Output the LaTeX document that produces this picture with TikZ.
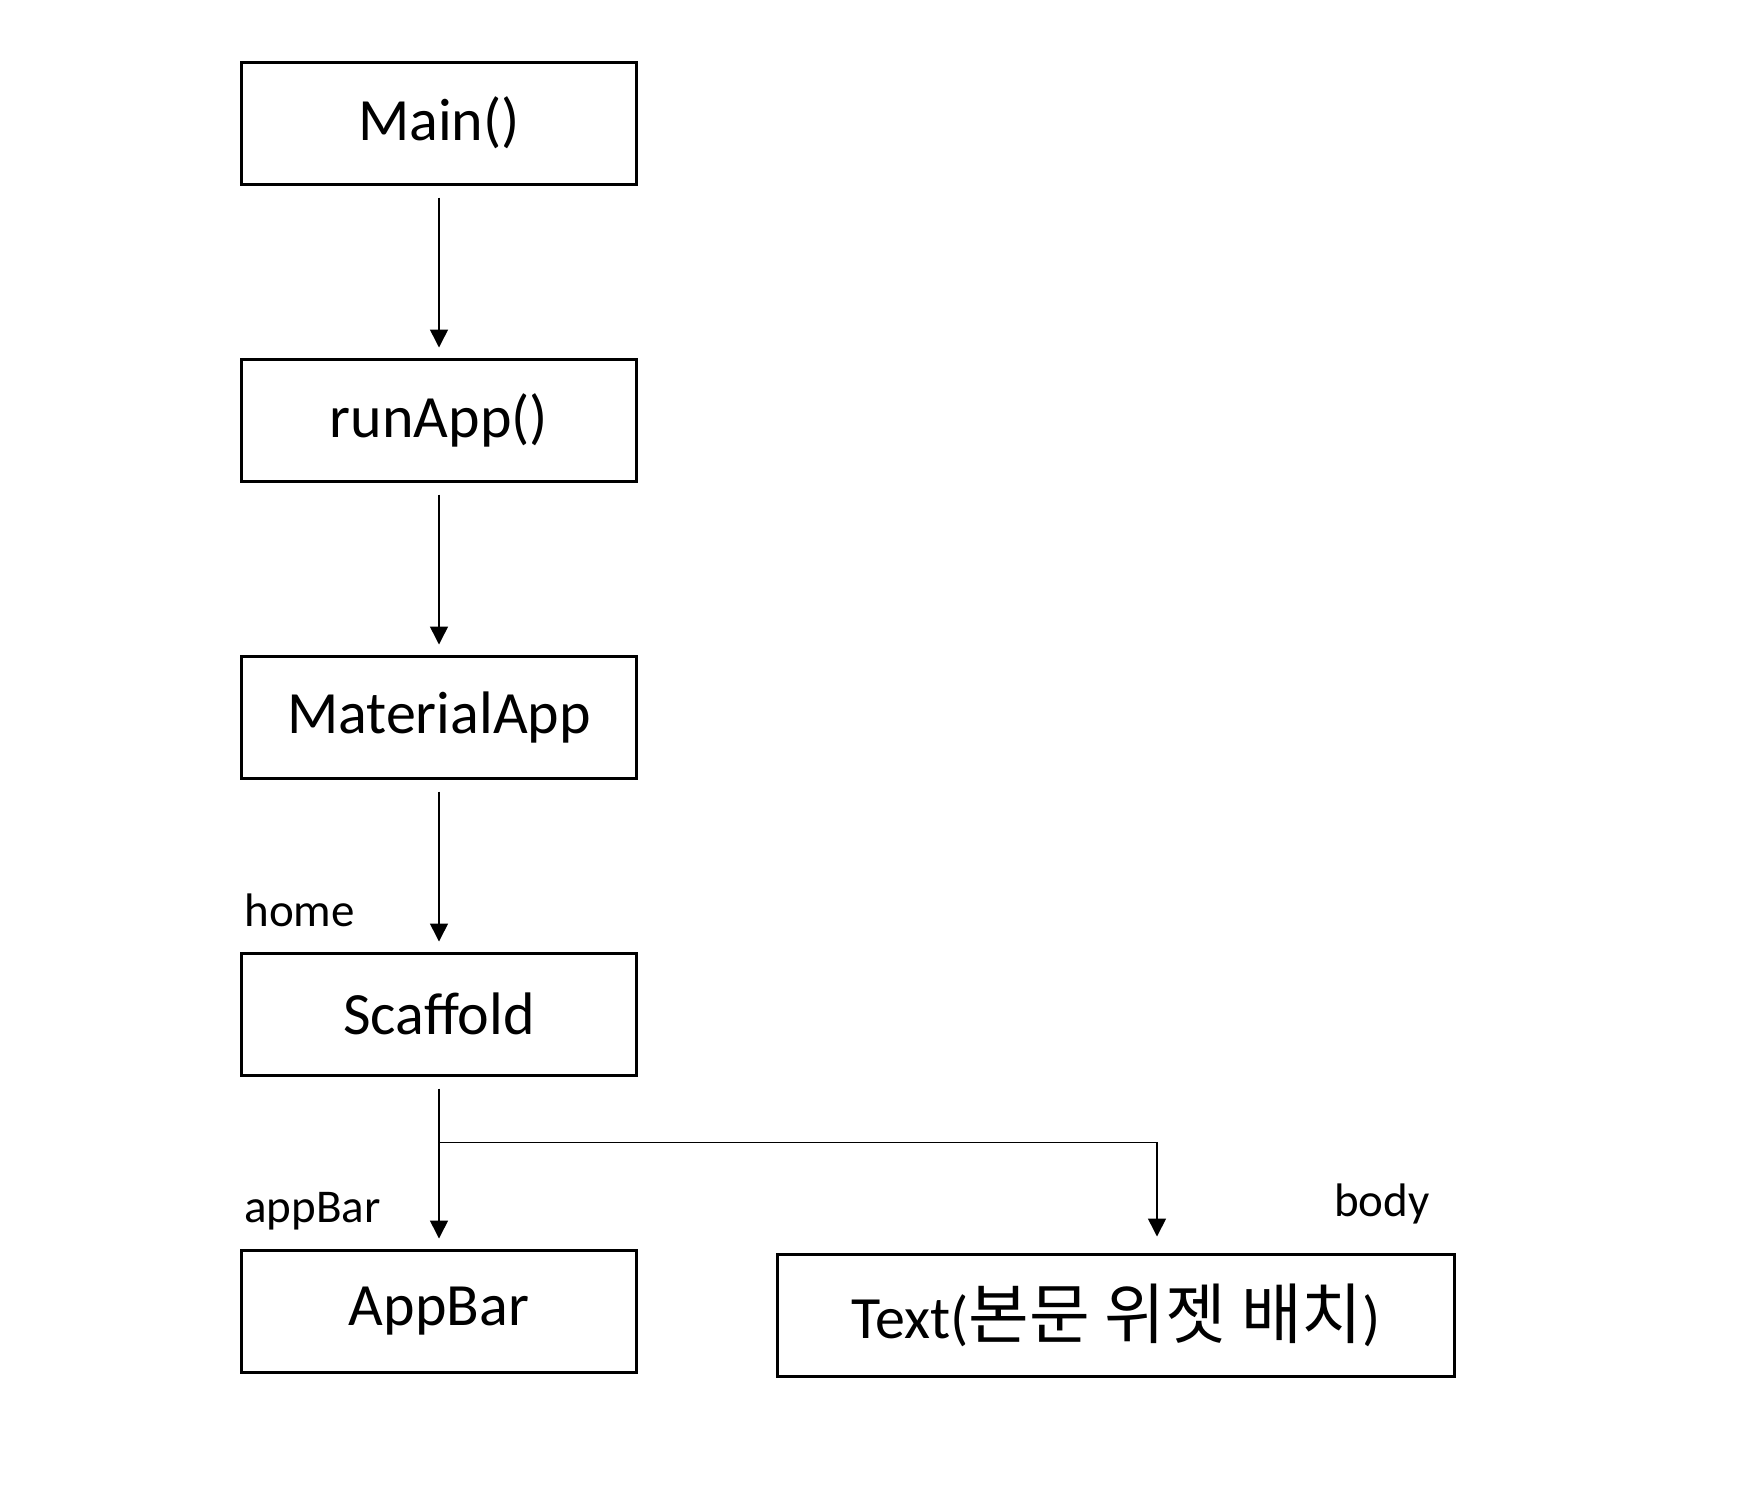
\documentclass[tikz,border=0pt]{standalone}
\usepackage{fontspec}
\setmainfont{Carlito}
\newfontfamily\hangul{Noto Sans CJK KR}
\usetikzlibrary{matrix,arrows.meta,positioning}

\tikzset{
  box/.style={draw, line width=1.5pt, minimum width=197.5pt, minimum height=61pt, font=\fontsize{30}{36}\selectfont},
  arr/.style={line width=0.75pt, -{Triangle[length=9pt,width=9pt]}},
  lbl/.style={inner sep=0pt, font=\fontsize{23.5}{28}\selectfont}
}

\begin{document}
\begin{tikzpicture}[x=0.5pt,y=-0.5pt]
  \useasboundingbox (0,0) rectangle (1740,1496);
          \matrix (m) at (439,717) [matrix of nodes,nodes={box},row sep=86pt]
            {
              Main()                    \\
              runApp()                  \\
              MaterialApp               \\
              Scaffold                  \\
              AppBar                    \\
              };
              \node[box, minimum width=338.5pt, right=69pt of m-5-1, yshift=-2pt] (txt) {Text({\hangul\fontsize{33}{36}\selectfont 본문 위젯 배치})};
              \foreach \a/\b in {1/2,2/3,3/4,4/5}
                \draw[arr] ([yshift=-6pt]m-\a-1.south) -- ([yshift=5pt]m-\b-1.north);
              \coordinate (fork) at ([yshift=-33pt]m-4-1.south);
              \draw[arr] (fork) -| ([xshift=20.5pt,yshift=8pt]txt.north);
              \node[lbl, anchor=base west] (home) at ([xshift=2pt,yshift=12.5pt]m-4-1.north west) {home};
              \node[lbl, anchor=base west] (appbar) at ([xshift=2pt,yshift=13pt]m-5-1.north west) {appBar};
              \node[lbl, anchor=base east] (body) at ([xshift=-13pt,yshift=18pt]txt.north east) {body};
        \end{tikzpicture}
\end{document}
